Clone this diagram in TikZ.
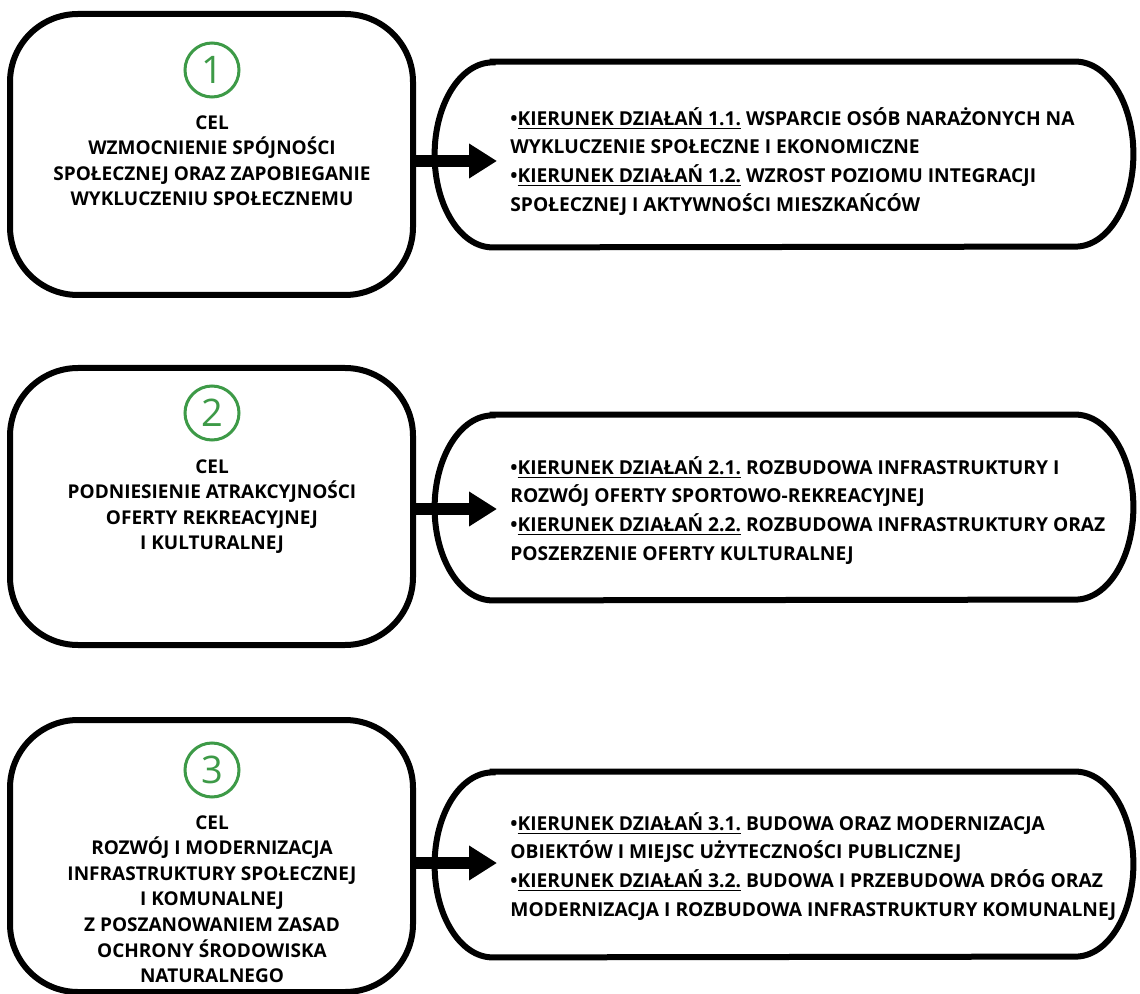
\documentclass[tikz,border=0pt]{standalone}
\usepackage{fontspec}
\setmainfont{Open Sans}
\usepackage{tikz}
\usetikzlibrary{positioning, arrows.meta}
\definecolor{celgreen}{HTML}{3D9A47}
\tikzset{
	celbox/.style={
			draw=black,
			line width=3pt,
			rounded corners=34pt,
			minimum width=201.5pt,
			minimum height=140pt,
			inner sep=0pt
		},
	celnum/.style={
			circle,
			draw=celgreen,
			line width=1.5pt,
			text=celgreen,
			minimum size=27pt,
			inner sep=0pt,
			font=\fontsize{19}{19}\selectfont
		},
	celtext/.style={
			anchor=north,
			align=center,
			inner sep=0pt,
			font=\bfseries\fontsize{9.5}{12.8}\selectfont
		},
	kierbox/.style={
			draw=none,
			minimum width=349pt,
			minimum height=92.5pt,
			inner sep=0pt
		},
	kiertext/.style={
			anchor=north west,
			align=left,
			inner sep=0pt,
			font=\bfseries\fontsize{9.6}{14.3}\selectfont
		},
	pillline/.style={
			draw=black,
			line width=3pt
		},
	bigarrow/.style={
			line width=6pt,
			-{Triangle[length=14pt,width=16.5pt]}
		}
}
% outline of a goal-direction box with oval ends
\newcommand{\pillbox}[1]{%
  \draw[pillline] ([xshift=29pt]#1.north west) -- ([xshift=-29pt]#1.north east)
    arc[start angle=90, end angle=-90, x radius=29pt, y radius=46.25pt]
    -- ([xshift=29pt]#1.south west)
    arc[start angle=270, end angle=90, x radius=29pt, y radius=46.25pt] -- cycle;}
\newcommand{\kier}[1]{\textbullet\underline{KIERUNEK DZIAŁAŃ #1}}

\begin{document}
\begin{tikzpicture}[x=0.5pt, y=-0.5pt]
\useasboundingbox[fill=white] (0,0) rectangle (1140,994);

% goals
\node[celbox, minimum height=140.5pt] (c1) at (211.5,154.5) {};
\node[celbox, minimum height=138.5pt] (c2) at (211.5,506.5) {};
\node[celbox, minimum height=136pt] (c3) at (211.5,856) {};

\node[celnum] (n1) at (212,70) {1};
\node[celnum] (n2) at (212,413) {2};
\node[celnum] (n3) at (212,770) {3};

\node[celtext] (t1) at (212,115) {CEL\\ WZMOCNIENIE SPÓJNOŚCI\\ SPOŁECZNEJ ORAZ ZAPOBIEGANIE\\ WYKLUCZENIU SPOŁECZNEMU};
\node[celtext] (t2) at (212,459) {CEL\\ PODNIESIENIE ATRAKCYJNOŚCI\\ OFERTY REKREACYJNEJ\\ I KULTURALNEJ};
\node[celtext] (t3) at (212,815) {CEL\\ ROZWÓJ I MODERNIZACJA\\ INFRASTRUKTURY SPOŁECZNEJ\\ I KOMUNALNEJ\\ Z POSZANOWANIEM ZASAD\\ OCHRONY ŚRODOWISKA\\ NATURALNEGO};

% directions
\node[kierbox] (k1) at (784,154.5) {};
\node[kierbox] (k2) at (784,507.5) {};
\node[kierbox] (k3) at (784,864.5) {};
\pillbox{k1}
\pillbox{k2}
\pillbox{k3}

\node[kiertext] (kt1) at (510,107) {\kier{1.1.} WSPARCIE OSÓB NARAŻONYCH NA\\ WYKLUCZENIE SPOŁECZNE I EKONOMICZNE\\ \kier{1.2.} WZROST POZIOMU INTEGRACJI\\ SPOŁECZNEJ I AKTYWNOŚCI MIESZKAŃCÓW};
\node[kiertext] (kt2) at (510,456) {\kier{2.1.} ROZBUDOWA INFRASTRUKTURY I\\ ROZWÓJ OFERTY SPORTOWO-REKREACYJNEJ\\ \kier{2.2.} ROZBUDOWA INFRASTRUKTURY ORAZ\\ POSZERZENIE OFERTY KULTURALNEJ};
\node[kiertext] (kt3) at (510,812) {\kier{3.1.} BUDOWA ORAZ MODERNIZACJA\\ OBIEKTÓW I MIEJSC UŻYTECZNOŚCI PUBLICZNEJ\\ \kier{3.2.} BUDOWA I PRZEBUDOWA DRÓG ORAZ\\ MODERNIZACJA I ROZBUDOWA INFRASTRUKTURY KOMUNALNEJ};

% arrows
\coordinate (a1) at (497,161);
\coordinate (a2) at (497,509);
\coordinate (a3) at (497,863);
\draw[bigarrow] (c1.east |- a1) -- (a1);
\draw[bigarrow] (c2.east |- a2) -- (a2);
\draw[bigarrow] (c3.east |- a3) -- (a3);
\end{tikzpicture}
\end{document}
